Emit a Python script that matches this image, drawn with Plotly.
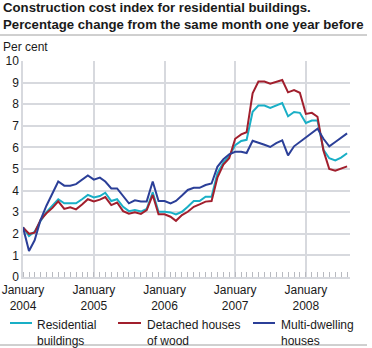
import pandas as pd
import plotly.graph_objects as go

# Monthly observations, January 2004 - August 2008
months = pd.date_range("2004-01-01", "2008-08-01", freq="MS")

residential = [
    2.30, 1.90, 2.10, 2.60, 3.00, 3.30, 3.60, 3.41, 3.41, 3.41, 3.60, 3.80,
    3.68, 3.75, 3.90, 3.52, 3.60, 3.25, 3.05, 3.10, 3.03, 3.15, 3.92, 3.02,
    3.02, 2.99, 2.90, 3.02, 3.25, 3.52, 3.52, 3.72, 3.72, 4.80, 5.30, 5.60,
    6.10, 6.30, 6.35, 7.65, 7.94, 7.94, 7.83, 7.94, 8.05, 7.44, 7.64, 7.60,
    7.13, 7.24, 7.24, 5.89, 5.50, 5.40, 5.53, 5.73,
]
detached_wood = [
    2.30, 2.00, 2.05, 2.65, 2.95, 3.20, 3.50, 3.15, 3.23, 3.13, 3.36, 3.60,
    3.50, 3.58, 3.70, 3.33, 3.45, 3.05, 2.93, 3.00, 2.92, 3.10, 3.80, 2.90,
    2.90, 2.79, 2.60, 2.87, 3.02, 3.25, 3.36, 3.49, 3.52, 4.60, 5.20, 5.50,
    6.40, 6.60, 6.70, 8.50, 9.05, 9.05, 8.95, 9.05, 9.12, 8.55, 8.65, 8.53,
    7.55, 7.60, 7.42, 5.85, 5.00, 4.92, 5.03, 5.12,
]
multi_dwelling = [
    2.30, 1.20, 1.70, 2.65, 3.30, 3.90, 4.42, 4.23, 4.23, 4.30, 4.50, 4.70,
    4.51, 4.60, 4.42, 4.10, 4.10, 3.75, 3.41, 3.55, 3.50, 3.50, 4.42, 3.52,
    3.52, 3.41, 3.52, 3.77, 4.03, 4.13, 4.13, 4.26, 4.33, 5.10, 5.45, 5.68,
    5.80, 5.80, 5.74, 6.31, 6.20, 6.12, 6.02, 6.20, 6.33, 5.63, 6.05, 6.26,
    6.48, 6.68, 6.87, 6.40, 6.05, 6.25, 6.45, 6.65,
]

series_names = ["Residential<br>buildings", "Detached houses<br>of wood", "Multi-dwelling<br>houses"]
series_values = [residential, detached_wood, multi_dwelling]
series_colors = ["#19afc6", "#a11f2d", "#2b3f98"]

year_ticks = ["2004-01-01", "2005-01-01", "2006-01-01", "2007-01-01", "2008-01-01"]
year_labels = ["January<br>2004", "January<br>2005", "January<br>2006", "January<br>2007", "January<br>2008"]
y_ticks = list(range(0, 11))

GRID = "#d7d9de"
TEXT = "#1a1a1a"
FONT = "Liberation Sans, Arial, sans-serif"

W, H = 372, 348
L, R, T, B = 23, 22, 61, 71
pw, ph = W - L - R, H - T - B


def px_x(x):
    return (x - L) / pw


def px_y(y):
    return (H - B - y) / ph


fig = go.Figure()
for name, vals, col in zip(series_names, series_values, series_colors):
    fig.add_trace(go.Scatter(
        x=months, y=vals, mode="lines", name=name,
        line=dict(color=col, width=2), hoverinfo="skip",
    ))

annotations = [
    dict(text="<b>Construction cost index for residential buildings.</b>",
         x=px_x(1), y=px_y(8), xanchor="left", yanchor="middle",
         font=dict(size=13.2, color=TEXT, family=FONT)),
    dict(text="<b>Percentage change from the same month one year before</b>",
         x=px_x(1), y=px_y(24), xanchor="left", yanchor="middle",
         font=dict(size=13.2, color=TEXT, family=FONT)),
    dict(text="Per cent", x=px_x(1), y=px_y(46.5), xanchor="left", yanchor="middle",
         font=dict(size=12, color=TEXT, family=FONT)),
]

shapes = [
    dict(type="line", xref="paper", yref="paper", x0=px_x(0), x1=px_x(367),
         y0=px_y(35), y1=px_y(35), line=dict(color="#a0a0a0", width=1)),
    dict(type="line", xref="paper", yref="paper", x0=px_x(0), x1=px_x(367),
         y0=px_y(345), y1=px_y(345), line=dict(color="#a0a0a0", width=1)),
]

# legend drawn as line samples with two-line labels
legend_x = [(10, 32, 35), (118, 141, 145), (253, 275, 279)]
for (x0, x1, tx), name, col in zip(legend_x, series_names, series_colors):
    shapes.append(dict(type="line", xref="paper", yref="paper",
                       x0=px_x(x0), x1=px_x(x1), y0=px_y(323), y1=px_y(323),
                       line=dict(color=col, width=2)))
    annotations.append(dict(text=name, x=px_x(tx), y=px_y(316), xanchor="left",
                            yanchor="top", align="left", showarrow=False,
                            font=dict(size=12, color=TEXT, family=FONT)))

for a in annotations:
    a.setdefault("xref", "paper")
    a.setdefault("yref", "paper")
    a.setdefault("showarrow", False)

fig.update_layout(
    width=W, height=H,
    margin=dict(l=L, r=R, t=T, b=B, autoexpand=False),
    paper_bgcolor="white", plot_bgcolor="white",
    showlegend=False,
    font=dict(family=FONT, size=12, color=TEXT),
    annotations=annotations, shapes=shapes,
    xaxis=dict(
        type="date", range=["2004-01-01", "2008-08-16"],
        tickvals=year_ticks, ticktext=year_labels,
        showgrid=True, gridcolor=GRID, gridwidth=1.5,
        ticks="", showline=True, linecolor=GRID, linewidth=1.5,
        tickfont=dict(size=12, color=TEXT), ticklabelstandoff=1,
        minor=dict(dtick="M1", tick0="2004-01-01", ticks="inside", ticklen=5,
                   tickcolor="#b8bac0", tickwidth=1, showgrid=False),
        fixedrange=True,
    ),
    yaxis=dict(
        range=[0, 10], tickvals=y_ticks,
        showgrid=True, gridcolor=GRID, gridwidth=1.5,
        zeroline=False, ticks="", showline=True, linecolor=GRID, linewidth=1.5,
        tickfont=dict(size=12, color=TEXT), ticklabelstandoff=0,
        fixedrange=True,
    ),
)

fig.write_html("out.html", config={"displayModeBar": False})
